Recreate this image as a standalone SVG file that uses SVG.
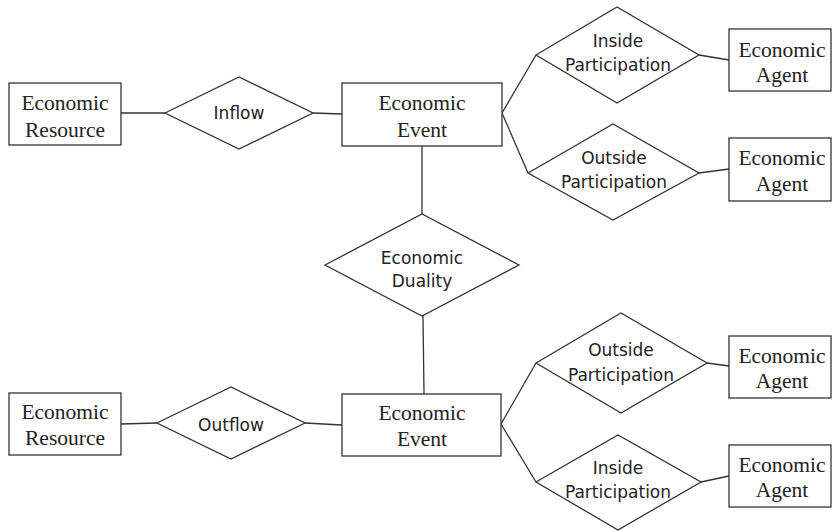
<svg xmlns="http://www.w3.org/2000/svg" width="832" height="531" viewBox="0 0 832 531">
<style>
.box{fill:#fff;stroke:#333;stroke-width:1.3}
.dia{fill:#fff;stroke:#333;stroke-width:1.3}
.ln{stroke:#333;stroke-width:1.3;fill:none}
.st{font-family:"Liberation Serif","Times New Roman",serif;font-size:21.5px;fill:#222;text-anchor:middle;dominant-baseline:central}
.ss{font-family:"DejaVu Sans",Tahoma,sans-serif;font-size:17px;fill:#222;text-anchor:middle;dominant-baseline:central}
</style>
<rect width="832" height="531" fill="#fff"/>
<g id="connectors">
<line class="ln" x1="121" y1="113" x2="165" y2="113"/>
<line class="ln" x1="313" y1="113" x2="342" y2="114"/>
<line class="ln" x1="502" y1="113" x2="536" y2="55"/>
<line class="ln" x1="502" y1="113" x2="528" y2="173"/>
<line class="ln" x1="699" y1="55" x2="729" y2="60"/>
<line class="ln" x1="699" y1="173" x2="729" y2="169"/>
<line class="ln" x1="422" y1="146" x2="422" y2="214"/>
<line class="ln" x1="423" y1="316" x2="424" y2="394"/>
<line class="ln" x1="121" y1="424" x2="157" y2="423"/>
<line class="ln" x1="305" y1="423" x2="342" y2="425"/>
<line class="ln" x1="501" y1="424" x2="536" y2="363"/>
<line class="ln" x1="501" y1="424" x2="536" y2="482"/>
<line class="ln" x1="707" y1="363" x2="729" y2="366"/>
<line class="ln" x1="701" y1="482" x2="729" y2="476"/>
</g>
<g id="resource1"><rect class="box" x="9" y="83" width="112" height="62"/><text class="st" x="65" y="103">Economic</text><text class="st" x="65" y="130">Resource</text></g>
<g id="inflow"><polygon class="dia" points="165,113 239,77 313,113 239,149"/><text class="ss" x="239" y="113">Inflow</text></g>
<g id="event1"><rect class="box" x="342" y="83" width="160" height="63"/><text class="st" x="422" y="103">Economic</text><text class="st" x="422" y="130">Event</text></g>
<g id="insidePart1"><polygon class="dia" points="536,55 617,7 699,55 617,103"/><text class="ss" x="618" y="41">Inside</text><text class="ss" x="618" y="65">Participation</text></g>
<g id="outsidePart1"><polygon class="dia" points="528,173 613,124 699,173 613,220"/><text class="ss" x="614" y="158">Outside</text><text class="ss" x="614" y="182">Participation</text></g>
<g id="agent1"><rect class="box" x="729" y="29" width="102" height="62"/><text class="st" x="782" y="50">Economic</text><text class="st" x="782" y="75">Agent</text></g>
<g id="agent2"><rect class="box" x="729" y="138" width="102" height="63"/><text class="st" x="782" y="158">Economic</text><text class="st" x="782" y="184">Agent</text></g>
<g id="duality"><polygon class="dia" points="325,265 422,214 519,265 422,316"/><text class="ss" x="422" y="258">Economic</text><text class="ss" x="422" y="281">Duality</text></g>
<g id="resource2"><rect class="box" x="9" y="393" width="112" height="62"/><text class="st" x="65" y="412">Economic</text><text class="st" x="65" y="438">Resource</text></g>
<g id="outflow"><polygon class="dia" points="157,423 231,387 305,423 231,459"/><text class="ss" x="231" y="425">Outflow</text></g>
<g id="event2"><rect class="box" x="342" y="394" width="159" height="62"/><text class="st" x="422" y="413">Economic</text><text class="st" x="422" y="439">Event</text></g>
<g id="outsidePart2"><polygon class="dia" points="536,363 621,313 707,363 621,413"/><text class="ss" x="621" y="350">Outside</text><text class="ss" x="621" y="375">Participation</text></g>
<g id="insidePart2"><polygon class="dia" points="536,482 618,435 701,482 618,530"/><text class="ss" x="618" y="468">Inside</text><text class="ss" x="618" y="492">Participation</text></g>
<g id="agent3"><rect class="box" x="729" y="336" width="102" height="62"/><text class="st" x="782" y="356">Economic</text><text class="st" x="782" y="381">Agent</text></g>
<g id="agent4"><rect class="box" x="729" y="445" width="102" height="62"/><text class="st" x="782" y="465">Economic</text><text class="st" x="782" y="490">Agent</text></g>
</svg>
